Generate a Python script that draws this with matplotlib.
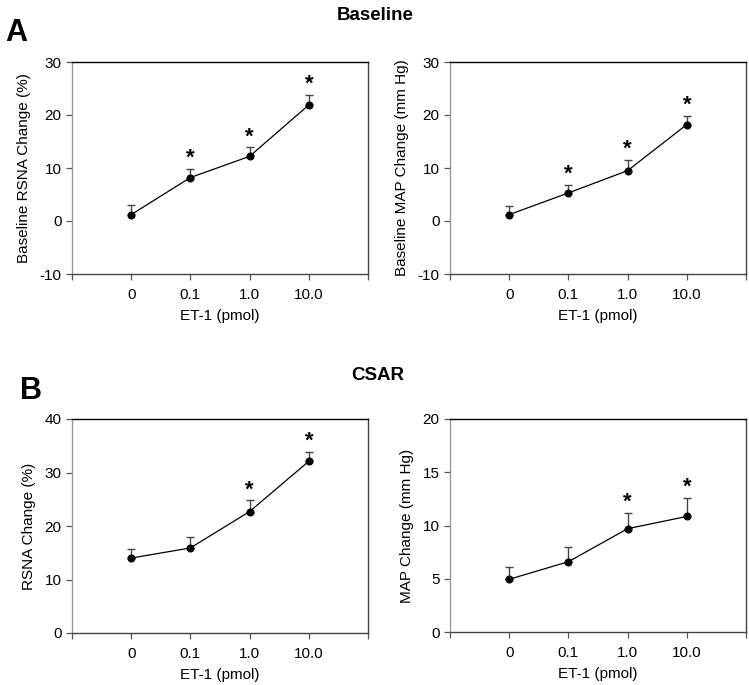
import matplotlib
matplotlib.use("Agg")
import matplotlib.pyplot as plt
import numpy as np

plt.rcParams['font.family'] = ['Liberation Sans', 'DejaVu Sans']
plt.rcParams['axes.unicode_minus'] = False

doses = ["0", "0.1", "1.0", "10.0"]

# panel A, baseline
base_rsna = [1.2, 8.2, 12.2, 21.9]
base_rsna_sem = [1.8, 1.7, 1.7, 1.9]
base_rsna_sig = [False, True, True, True]

base_map = [1.2, 5.3, 9.5, 18.2]
base_map_sem = [1.6, 1.5, 2.1, 1.7]
base_map_sig = [False, True, True, True]

# panel B, CSAR
csar_rsna = [14.0, 15.9, 22.7, 32.1]
csar_rsna_sem = [1.7, 2.0, 2.1, 1.7]
csar_rsna_sig = [False, False, True, True]

csar_map = [4.95, 6.6, 9.7, 10.85]
csar_map_sem = [1.2, 1.35, 1.5, 1.75]
csar_map_sig = [False, False, True, True]


def draw_panel(ax, values, sem, sig, ylabel, ylim, yticks):
    x = np.arange(len(doses))
    ax.errorbar(x, values, yerr=[np.zeros(len(sem)), sem], fmt='none',
                ecolor='#444444', elinewidth=1.0, capsize=3, capthick=1.0)
    ax.plot(x, values, color='black', lw=0.9, marker='o', ms=4.8,
            markerfacecolor='black', zorder=3)
    for xi, v, s, star in zip(x, values, sem, sig):
        if star:
            ax.annotate("*", (xi, v + s), xytext=(0, 0), textcoords='offset points',
                        ha='center', va='bottom', fontsize=16, fontweight='bold')
    ax.set_xlim(-1, 4)
    ax.set_xticks([-1, 0, 1, 2, 3, 4])
    ax.set_xticklabels([""] + doses + [""])
    ax.set_ylim(*ylim)
    ax.set_yticks(yticks)
    ax.set_ylabel(ylabel, fontsize=11, labelpad=6)
    ax.set_xlabel("ET-1 (pmol)", fontsize=11, labelpad=5)
    ax.tick_params(direction='out', length=4, width=0.9, labelsize=11,
                   colors='#555555', labelcolor='black')
    ax.tick_params(axis='x', pad=6)
    ax.spines['left'].set_color('#999999')
    ax.spines['top'].set_color('black')
    ax.spines['right'].set_color('#444444')
    ax.spines['bottom'].set_color('#444444')
    for sp in ax.spines.values():
        sp.set_linewidth(1.0)


W, H = 749, 685
fig = plt.figure(figsize=(W / 100, H / 100), dpi=100)


def add_ax(x0, y0, x1, y1):
    return fig.add_axes([x0 / W, 1 - y1 / H, (x1 - x0) / W, (y1 - y0) / H])


ax1 = add_ax(72, 62, 368, 274)
ax2 = add_ax(450, 62, 746, 274)
ax3 = add_ax(72, 419, 368, 633)
ax4 = add_ax(450, 419, 746, 632)

draw_panel(ax1, base_rsna, base_rsna_sem, base_rsna_sig,
           "Baseline RSNA Change (%)", (-10, 30), [-10, 0, 10, 20, 30])
draw_panel(ax2, base_map, base_map_sem, base_map_sig,
           "Baseline MAP Change (mm Hg)", (-10, 30), [-10, 0, 10, 20, 30])
draw_panel(ax3, csar_rsna, csar_rsna_sem, csar_rsna_sig,
           "RSNA Change (%)", (0, 40), [0, 10, 20, 30, 40])
draw_panel(ax4, csar_map, csar_map_sem, csar_map_sig,
           "MAP Change (mm Hg)", (0, 20), [0, 5, 10, 15, 20])

fig.text(375 / W, 1 - 15 / H, "Baseline", ha='center', va='center',
         fontsize=13.5, fontweight='bold')
fig.text(378 / W, 1 - 376 / H, "CSAR", ha='center', va='center',
         fontsize=13.5, fontweight='bold')
fig.text(5 / W, 1 - 33 / H, "A", ha='left', va='center',
         fontsize=22, fontweight='bold')
fig.text(20 / W, 1 - 391 / H, "B", ha='left', va='center',
         fontsize=22, fontweight='bold')

fig.savefig("out.png", dpi=100)
